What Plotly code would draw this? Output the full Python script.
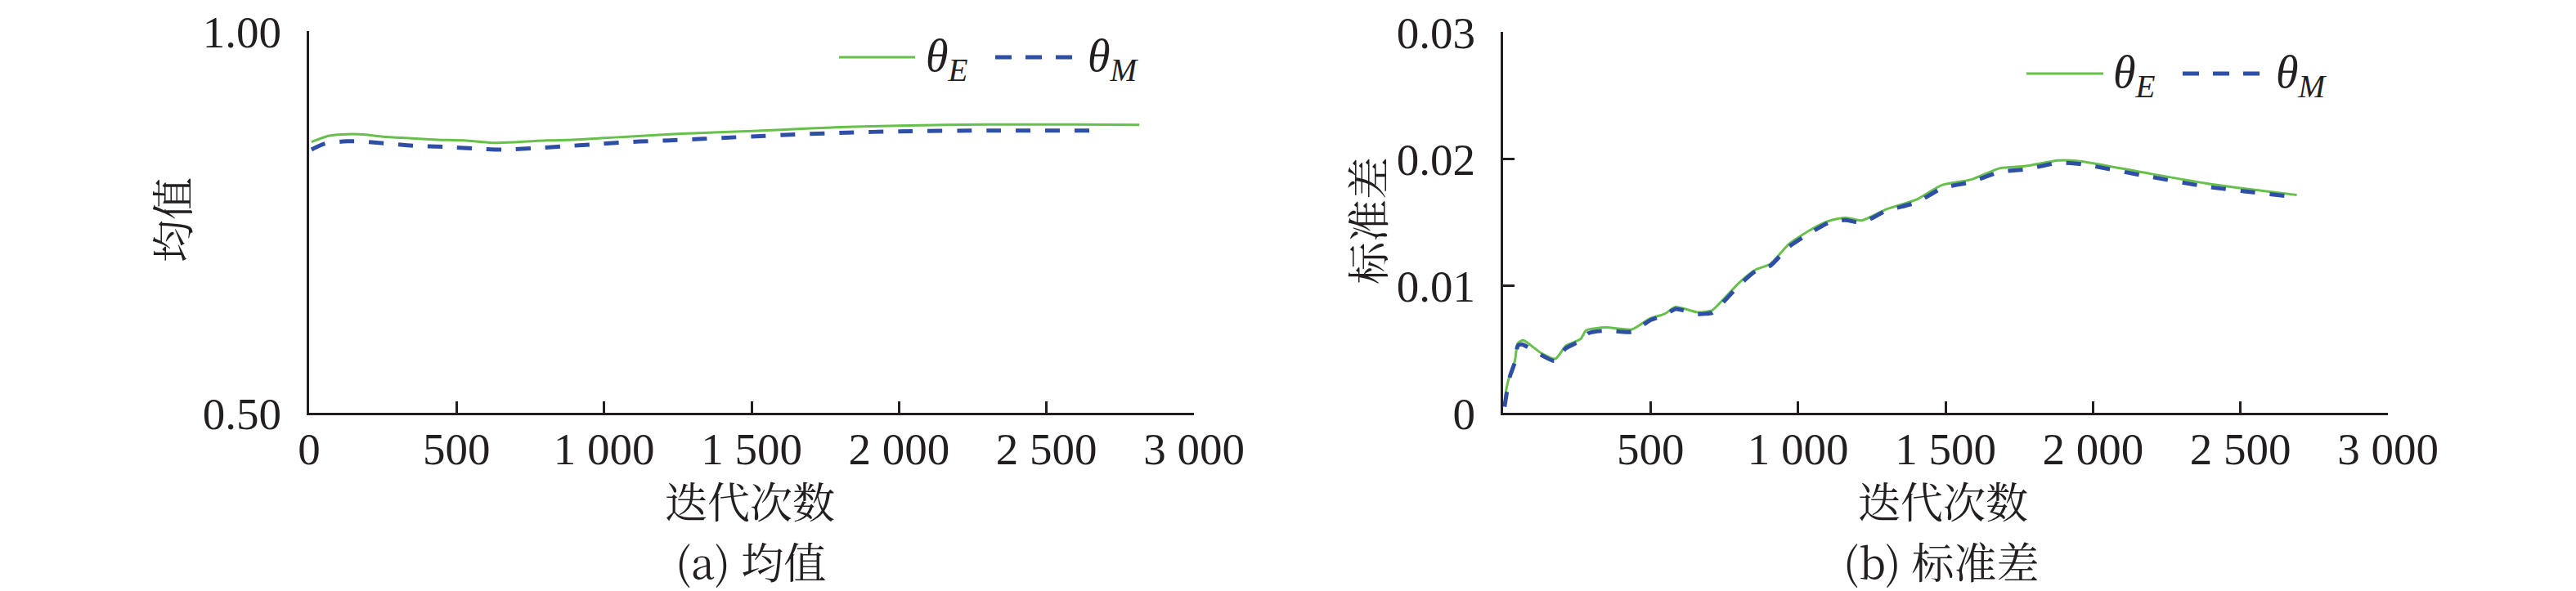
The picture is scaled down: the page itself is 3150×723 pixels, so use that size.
import plotly.graph_objects as go

# ---------------- data ----------------
# (a) mean
LEFT_ITER_E = [8, 65, 110, 185, 250, 340, 435, 525, 620, 710, 805, 895, 990, 1080, 1175, 1265, 1405, 1600, 1800, 2000, 2300, 2600, 2815]
LEFT_E = [0.855, 0.863, 0.865, 0.865, 0.862, 0.860, 0.858, 0.857, 0.854, 0.855, 0.857, 0.858, 0.860, 0.862, 0.864, 0.866, 0.868, 0.871, 0.8745, 0.8765, 0.878, 0.878, 0.8775]
LEFT_ITER_M = [8, 55, 130, 160, 255, 355, 460, 560, 660, 760, 865, 965, 1070, 1175, 1275, 1380, 1600, 1800, 2000, 2330, 2690]
LEFT_M = [0.845, 0.853, 0.856, 0.856, 0.8533, 0.850, 0.8486, 0.8465, 0.845, 0.8469, 0.8494, 0.852, 0.8547, 0.8565, 0.858, 0.860, 0.864, 0.867, 0.869, 0.870, 0.870]

# (b) standard deviation
RIGHT_ITER_E = [5, 10, 22, 40, 50, 68, 127, 177, 213, 263, 282, 349, 437, 498, 548, 585, 659, 709, 733, 802, 857, 906, 969, 1042, 1105, 1160, 1216, 1297, 1402, 1488, 1587, 1686, 1773, 1882, 1961, 2172, 2395, 2691]
RIGHT_E = [0.0006, 0.00176, 0.00294, 0.0041, 0.0055, 0.00573, 0.00476, 0.00427, 0.0053, 0.00583, 0.00652, 0.00674, 0.00659, 0.00744, 0.00781, 0.00835, 0.00794, 0.00809, 0.00862, 0.0103, 0.0113, 0.01174, 0.0133, 0.01442, 0.01513, 0.01539, 0.01517, 0.01603, 0.01682, 0.01796, 0.01839, 0.01929, 0.01946, 0.0199, 0.01982, 0.01894, 0.01805, 0.01717]
RIGHT_ITER_M = [5, 22, 40, 50, 65, 127, 175, 213, 263, 290, 349, 437, 498, 548, 585, 659, 709, 733, 802, 857, 906, 969, 1042, 1105, 1160, 1216, 1297, 1402, 1488, 1587, 1686, 1773, 1882, 1961, 2172, 2395, 2695]
RIGHT_M = [0.0005, 0.0028, 0.0040, 0.0053, 0.0054, 0.0046, 0.0041, 0.0051, 0.0057, 0.0063, 0.0065, 0.0064, 0.0073, 0.0077, 0.0082, 0.0078, 0.0079, 0.0084, 0.0101, 0.0112, 0.0116, 0.0131, 0.0142, 0.0150, 0.0152, 0.0150, 0.0159, 0.0166, 0.0177, 0.0182, 0.0190, 0.0192, 0.0197, 0.0196, 0.0187, 0.0178, 0.0170]

X_TICKS_A = [0, 500, 1000, 1500, 2000, 2500, 3000]
X_TICKTEXT_A = ["0", "500", "1 000", "1 500", "2 000", "2 500", "3 000"]
X_TICKS_B = [500, 1000, 1500, 2000, 2500, 3000]
X_TICKTEXT_B = ["500", "1 000", "1 500", "2 000", "2 500", "3 000"]
Y_TICKS_A = [0.5, 1.0]
Y_TICKTEXT_A = ["0.50", "1.00"]
Y_TICKS_B = [0, 0.01, 0.02, 0.03]
Y_TICKTEXT_B = ["0", "0.01", "0.02", "0.03"]

LABEL_E = "<i>θ</i><sub><i>E</i></sub>"
LABEL_M = "<i>θ</i><sub><i>M</i></sub>"

# ---------------- style ----------------
W, H = 3150, 723
GREEN = "#66c04a"
BLUE = "#2f4fa6"
INK = "#231f20"
NUM_FONT = "Liberation Serif, Times New Roman, serif"
CJK_FONT = "Noto Serif CJK SC, Source Han Serif SC, Noto Sans CJK SC, Liberation Serif, sans-serif"


def px(x):
    return x / W


def py(y):
    return 1 - y / H


fig = go.Figure()

fig.add_trace(go.Scatter(x=LEFT_ITER_E, y=LEFT_E, mode="lines", name="θE",
                         line=dict(color=GREEN, width=3, shape="spline", smoothing=0.8),
                         xaxis="x", yaxis="y", showlegend=False))
fig.add_trace(go.Scatter(x=LEFT_ITER_M, y=LEFT_M, mode="lines", name="θM",
                         line=dict(color=BLUE, width=5, dash="18px,18px", shape="spline", smoothing=0.8),
                         xaxis="x", yaxis="y", showlegend=False))
fig.add_trace(go.Scatter(x=RIGHT_ITER_E, y=RIGHT_E, mode="lines", name="θE",
                         line=dict(color=GREEN, width=3, shape="spline", smoothing=0.6),
                         xaxis="x2", yaxis="y2", showlegend=False))
fig.add_trace(go.Scatter(x=RIGHT_ITER_M, y=RIGHT_M, mode="lines", name="θM",
                         line=dict(color=BLUE, width=5, dash="18px,18px", shape="spline", smoothing=0.6),
                         xaxis="x2", yaxis="y2", showlegend=False))

axis_common = dict(showline=True, linecolor=INK, linewidth=3, ticks="inside", ticklen=14,
                   tickwidth=3, tickcolor=INK, showgrid=False, zeroline=False, automargin=False,
                   tickfont=dict(family=NUM_FONT, size=55, color=INK), fixedrange=True)

fig.update_layout(
    template="none",
    width=W, height=H, autosize=False,
    margin=dict(l=0, r=0, t=0, b=0, pad=0),
    paper_bgcolor="white", plot_bgcolor="white",
    showlegend=False,
    xaxis=dict(domain=[px(370), px(1452)], range=[0, 3000], anchor="y",
               tickvals=X_TICKS_A, ticktext=X_TICKTEXT_A, ticklabelstandoff=-6, **axis_common),
    yaxis=dict(domain=[py(497.3), py(30.3)], range=[0.5, 1.0], anchor="x",
               tickvals=Y_TICKS_A, ticktext=Y_TICKTEXT_A, ticklabelstandoff=20, **axis_common),
    xaxis2=dict(domain=[px(1830), px(2912)], range=[0, 3000], anchor="y2",
                tickvals=X_TICKS_B, ticktext=X_TICKTEXT_B, ticklabelstandoff=-6, **axis_common),
    yaxis2=dict(domain=[py(497.3), py(31.3)], range=[0, 0.03], anchor="x2",
                tickvals=Y_TICKS_B, ticktext=Y_TICKTEXT_B, ticklabelstandoff=20, **axis_common),
)

# ---------------- legends (drawn as samples + text) ----------------
shapes = []
annotations = []


def legend(x_e0, x_e1, x_te, x_m0, x_m1, x_tm, y):
    shapes.append(dict(type="line", xref="paper", yref="paper", x0=px(x_e0), x1=px(x_e1),
                       y0=py(y), y1=py(y), line=dict(color=GREEN, width=3)))
    shapes.append(dict(type="line", xref="paper", yref="paper", x0=px(x_m0), x1=px(x_m1),
                       y0=py(y), y1=py(y), line=dict(color=BLUE, width=5, dash="20px,17px")))
    for xt, txt in ((x_te, LABEL_E), (x_tm, LABEL_M)):
        annotations.append(dict(text=txt, xref="paper", yref="paper", x=px(xt), y=py(y + 2),
                                xanchor="left", yanchor="middle", showarrow=False,
                                font=dict(family=NUM_FONT, size=56, color=INK)))


legend(1018, 1111, 1122, 1209, 1304, 1320, 62)
legend(2470, 2564, 2574, 2661, 2755, 2773, 82)


def text(t, x, y, size=52, angle=0):
    annotations.append(dict(text=t, xref="paper", yref="paper", x=px(x), y=py(y),
                            xanchor="center", yanchor="middle", showarrow=False, textangle=angle,
                            font=dict(family=CJK_FONT, size=size, color=INK)))


text("均值", 200, 261, angle=-90)
text("标准差", 1662, 262, angle=-90)
text("迭代次数", 909, 603)
text("迭代次数", 2368, 603)
text("(a) 均值", 910, 677)
text("(b) 标准差", 2366, 677)

fig.update_layout(shapes=shapes, annotations=annotations)

fig.write_html("out.html")
